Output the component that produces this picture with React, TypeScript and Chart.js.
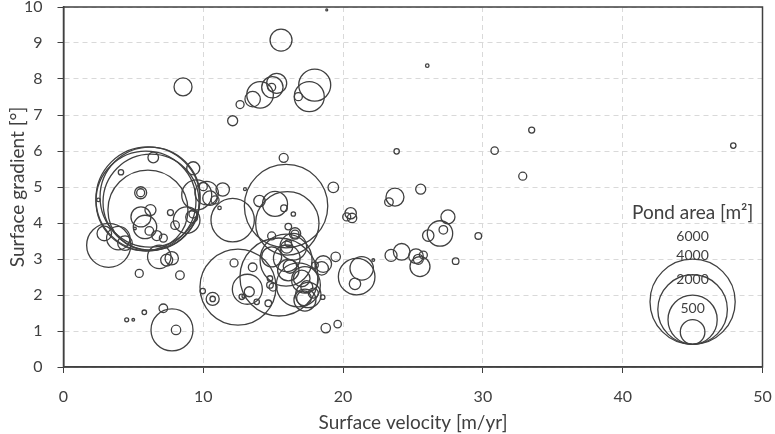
import React, { useEffect, useRef } from "react";
import { Chart, registerables } from "chart.js";

Chart.register(...registerables);

// surface velocity [m/yr], surface gradient [°] and pond area [m²] for each pond
const velocity = [
  15.56, 13.53, 14.06, 14.94, 15.25, 14.89, 17.97, 17.58, 16.8, 12.63,
  12.1, 15.75, 18.83, 8.55, 9.28, 12.98, 19.3, 33.49, 23.83, 30.84,
  32.85, 23.71, 23.28, 25.55, 27.5, 26.93, 27.17, 26.09, 29.67, 23.43,
  24.19, 25.21, 25.5, 25.38, 25.74, 28.05, 22.16, 26.02, 47.91, 20.54,
  20.26, 20.64, 20.97, 21.33, 20.85, 15.92, 15.13, 14.02, 15.77, 16.44,
  16.01, 16.08, 16.56, 16.56, 14.89, 16.08, 15.92, 15.97, 15.41, 16.8,
  16.08, 16.2, 16.44, 14.89, 15.97, 17.27, 17.51, 17.2, 17.04, 17.4,
  17.87, 18.54, 17.99, 18.47, 18.58, 19.47, 18.76, 19.61, 14.77, 14.77,
  14.99, 14.65, 17.27, 12.1, 11.39, 11.16, 12.48, 13.15, 13.29, 12.2,
  13.53, 12.75, 12.91, 13.82, 10.67, 10.67, 9.96, 8.33, 9.53, 10.24,
  10.48, 10.0, 10.84, 8.81, 9.17, 9.26, 6.04, 6.19, 5.9, 6.26,
  6.04, 6.42, 4.11, 5.52, 5.52, 2.5, 6.22, 5.54, 5.83, 6.14,
  6.67, 7.14, 7.65, 7.98, 3.23, 2.92, 3.92, 4.4, 5.42, 6.85,
  7.38, 7.74, 4.52, 4.99, 5.78, 7.14, 7.76, 8.05, 5.11,
];

const gradient = [
  9.08, 7.44, 7.56, 7.77, 7.88, 7.77, 7.83, 7.51, 7.51, 7.29,
  6.84, 5.81, 9.92, 7.78, 5.52, 4.94, 4.99, 6.58, 5.99, 6.01,
  5.3, 4.72, 4.58, 4.94, 4.17, 3.71, 3.81, 3.65, 3.64, 3.1,
  3.2, 3.08, 2.79, 2.99, 3.11, 2.94, 2.97, 8.37, 6.15, 4.27,
  4.17, 4.14, 2.51, 2.74, 2.31, 4.47, 4.53, 4.61, 4.41, 4.25,
  3.99, 3.9, 3.71, 3.69, 3.64, 3.44, 2.97, 3.02, 2.5, 2.28,
  2.69, 2.79, 3.34, 3.06, 3.33, 1.86, 2.0, 1.91, 2.46, 2.23,
  2.05, 1.94, 2.83, 2.74, 2.86, 3.06, 1.08, 1.19, 2.46, 2.28,
  2.22, 1.77, 2.42, 4.08, 4.93, 4.42, 2.22, 2.16, 2.09, 2.89,
  2.77, 1.95, 1.97, 1.81, 1.89, 1.89, 2.11, 2.55, 4.78, 4.83,
  4.69, 5.01, 4.64, 4.08, 4.17, 4.25, 4.67, 4.72, 4.61, 4.58,
  4.36, 5.82, 5.41, 4.84, 4.84, 4.64, 4.36, 4.17, 3.89, 3.78,
  3.65, 3.58, 4.29, 3.94, 3.38, 3.71, 3.58, 3.44, 2.6, 3.06,
  2.97, 3.02, 1.31, 1.31, 1.52, 1.63, 1.03, 1.03, 3.85,
];

const pondArea = [
  400, 196, 585, 378, 331, 53, 846, 744, 53, 53,
  83, 67, 3, 268, 140, 7, 93, 30, 24, 45,
  53, 268, 61, 83, 162, 533, 61, 107, 36, 119,
  228, 176, 331, 83, 53, 36, 6, 10, 24, 107,
  53, 73, 1107, 453, 107, 5749, 517, 107, 36, 16,
  3322, 36, 107, 53, 53, 36, 2235, 585, 5028, 1600,
  378, 148, 585, 331, 119, 400, 533, 176, 228, 119,
  83, 17, 36, 148, 228, 73, 73, 45, 24, 36,
  53, 36, 585, 1557, 148, 10, 4774, 744, 83, 53,
  61, 24, 13, 24, 140, 24, 24, 61, 744, 453,
  176, 53, 53, 585, 119, 53, 8939, 8265, 8265, 7617,
  5290, 93, 24, 119, 53, 10, 100, 331, 453, 61,
  83, 53, 30, 61, 1600, 176, 453, 176, 53, 453,
  119, 148, 13, 6, 17, 61, 1458, 73, 6,
];

// size legend values [m²]
const legendAreas = [6000, 4000, 2000, 500];

const INK = "#404040";
const GRID = "#d9d9d9";
const FONT = "Lato, 'Open Sans', sans-serif";

// bubble radius in px grows with the square root of the pond area
const areaToRadius = (area: number) => 0.55 * Math.sqrt(area);

// solid box round the plot area
const framePlugin = {
  id: "frame",
  afterDatasetsDraw(chart: any) {
    const { ctx, chartArea: a } = chart;
    ctx.save();
    ctx.strokeStyle = INK;
    ctx.lineWidth = 1.5;
    ctx.strokeRect(a.left, a.top, a.right - a.left, a.bottom - a.top);
    ctx.restore();
  },
};

// nested circles that explain the bubble size
const sizeLegendPlugin = {
  id: "sizeLegend",
  afterDatasetsDraw(chart: any) {
    const { ctx, scales } = chart;
    const cx = scales.x.getPixelForValue(45);
    const base = scales.y.getPixelForValue(0.63);
    ctx.save();
    ctx.strokeStyle = INK;
    ctx.lineWidth = 1.3;
    ctx.fillStyle = INK;
    ctx.textAlign = "center";
    ctx.textBaseline = "middle";
    ctx.font = `14px ${FONT}`;
    legendAreas.forEach((area) => {
      const r = areaToRadius(area);
      ctx.beginPath();
      ctx.arc(cx, base - r, r, 0, Math.PI * 2);
      ctx.stroke();
      ctx.fillText(String(area), cx, base - 2 * r - (7 + 0.36 * r));
    });
    ctx.font = `19px ${FONT}`;
    ctx.fillText("Pond area [m²]", cx, scales.y.getPixelForValue(4.29));
    ctx.restore();
  },
};

const PondChart: React.FC = () => {
  const chartRef = useRef<HTMLCanvasElement | null>(null);

  useEffect(() => {
    if (!chartRef.current) return;
    const ctx = chartRef.current.getContext("2d");
    if (!ctx) return;

    const tickFont = { family: FONT, size: 16 };
    const titleFont = { family: FONT, size: 19 };

    const chart = new Chart(ctx, {
      type: "bubble",
      data: {
        datasets: [
          {
            data: velocity.map((v, i) => ({
              x: v,
              y: gradient[i],
              r: areaToRadius(pondArea[i]),
            })),
            backgroundColor: "rgba(0,0,0,0)",
            borderColor: INK,
            borderWidth: 1.3,
            clip: false,
          } as any,
        ],
      },
      options: {
        animation: false,
        responsive: false,
        events: [],
        layout: {
          autoPadding: false,
          padding: { top: 7, right: 12.5, left: 0, bottom: 0 },
        },
        plugins: {
          legend: { display: false },
          tooltip: { enabled: false },
        },
        scales: {
          x: {
            type: "linear",
            min: 0,
            max: 50,
            ticks: { stepSize: 10, color: INK, font: tickFont, padding: 14 },
            grid: {
              color: GRID,
              tickColor: INK,
              tickLength: 6,
              tickWidth: 1,
              tickBorderDash: [],
            },
            border: { display: true, color: INK, width: 1.5, dash: [5, 4] },
            title: {
              display: true,
              text: "Surface velocity [m/yr]",
              color: INK,
              font: titleFont,
              padding: { top: 0, bottom: 0 },
            },
            afterFit: (s: any) => {
              s.height = 67;
              s.paddingLeft = 0;
              s.paddingRight = 0;
            },
          },
          y: {
            type: "linear",
            min: 0,
            max: 10,
            ticks: { stepSize: 1, color: INK, font: tickFont, padding: 15 },
            grid: {
              color: GRID,
              tickColor: INK,
              tickLength: 6,
              tickWidth: 1,
              tickBorderDash: [],
            },
            border: { display: true, color: INK, width: 1.5, dash: [5, 4] },
            title: {
              display: true,
              text: "Surface gradient [°]",
              color: INK,
              font: titleFont,
              padding: { top: 6, bottom: 0 },
            },
            afterFit: (s: any) => {
              s.width = 63.5;
              s.paddingTop = 0;
              s.paddingBottom = 0;
            },
          },
        } as any,
      },
      plugins: [framePlugin, sizeLegendPlugin],
    });

    return () => {
      chart.destroy();
    };
  }, []);

  return (
    <div style={{ position: "absolute", left: 0, top: 0, width: 775, height: 434 }}>
      <canvas ref={chartRef} width={775} height={434} style={{ display: "block" }}></canvas>
    </div>
  );
};

export default function App() {
  return <PondChart />;
}
